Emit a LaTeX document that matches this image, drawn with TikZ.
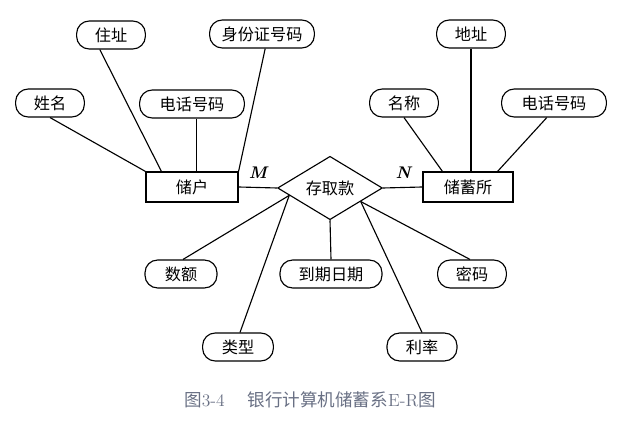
\documentclass[tikz,border=0pt]{standalone}
\usepackage{fontspec}
\newfontfamily\cjk{Noto Sans CJK SC}
\usetikzlibrary{calc,shapes.geometric}
\definecolor{capgray}{RGB}{105,112,132}

\begin{document}
\begin{tikzpicture}[line width=0.8pt,
		attr/.style={draw, rounded corners=9pt, minimum width=1.72cm, minimum height=0.7cm, inner sep=0pt, font=\cjk\fontsize{11.5}{13}\selectfont},
		ent/.style={draw, minimum width=2.3cm, minimum height=0.75cm, inner sep=0pt, font=\cjk\fontsize{11.5}{13}\selectfont},
		rel/.style={draw, diamond, minimum width=2.62cm, minimum height=0.95cm, inner sep=0pt, font=\cjk\fontsize{11.5}{13}\selectfont}]
				\useasboundingbox (0, 0) rectangle (15.475, 10.6);
				
				\node[ent] (chuhu) at (4.8, 5.925) {储户};
				\node[rel] (cunqu) at (8.25, 5.9) {存取款};
				\node[ent, minimum width=2.25cm] (chuxu) at (11.7, 5.925) {储蓄所};
				
				\node[attr] (zhuzhi) at (2.775, 9.725) {住址};
				\node[attr, minimum width=2.62cm] (shenfen) at (6.55, 9.75) {身份证号码};
				\node[attr] (xingming) at (1.25, 8.025) {姓名};
				\node[attr, minimum width=2.62cm] (dianhuaL) at (4.8, 8.0) {电话号码};
				
				\node[attr] (dizhi) at (11.775, 9.75) {地址};
				\node[attr] (mingcheng) at (10.1, 8.025) {名称};
				\node[attr, minimum width=2.62cm] (dianhuaR) at (13.85, 8.025) {电话号码};
				
				\node[attr, minimum width=1.8cm] (shue) at (4.525, 3.75) {数额};
				\node[attr, minimum width=2.55cm] (daoqi) at (8.275, 3.75) {到期日期};
				\node[attr] (mima) at (11.8, 3.75) {密码};
				\node[attr, minimum width=1.77cm] (leixing) at (5.95, 1.925) {类型};
				\node[attr, minimum width=1.75cm] (lilv) at (10.55, 1.925) {利率};
				
				\node[font=\fontsize{12}{14}\selectfont\bfseries\itshape] (m) at (6.45, 6.275) {M};
				\node[font=\fontsize{12}{14}\selectfont\bfseries\itshape] (n) at (10.08, 6.275) {N};
				
				\draw (xingming.south) -- (chuhu.north west);
				\draw ([xshift=-0.28cm]zhuzhi.south) -- ([xshift=0.4cm]chuhu.north west);
				\draw ([xshift=0.12cm]dianhuaL.south) -- ([xshift=0.12cm]dianhuaL.south |- chuhu.north);
				\draw ([xshift=0.08cm]shenfen.south) -- (chuhu.north east);
				
				\draw (mingcheng.south) -- ([xshift=0.5cm]chuxu.north west);
				\draw (dizhi.south) -- (dizhi.south |- chuxu.north);
				\draw ([xshift=-0.18cm]dianhuaR.south) -- ([xshift=-0.4cm]chuxu.north east);
				
				\draw (chuhu.east) -- (cunqu.west);
				\draw (cunqu.east) -- (chuxu.west);
				
				\coordinate (cl) at ($(cunqu.west)!0.23!(cunqu.south)$);
				\coordinate (cr) at ($(cunqu.east)!0.42!(cunqu.south)$);
				\draw (cl) -- ([xshift=0.05cm]shue.north);
				\draw (cl) -- ([xshift=0.05cm]leixing.north);
				\draw (cunqu.south) -- (daoqi.north);
				\draw (cr) -- (lilv.north);
				\draw (cr) -- ([xshift=-0.05cm]mima.north);
				
				\node[text=capgray, font=\fontsize{12.5}{14}\selectfont] (caption) at (7.75, 0.6) {{\cjk 图}3-4\hspace{1.3em}{\cjk 银行计算机储蓄系}E-R{\cjk 图}};
			\end{tikzpicture}
\end{document}
